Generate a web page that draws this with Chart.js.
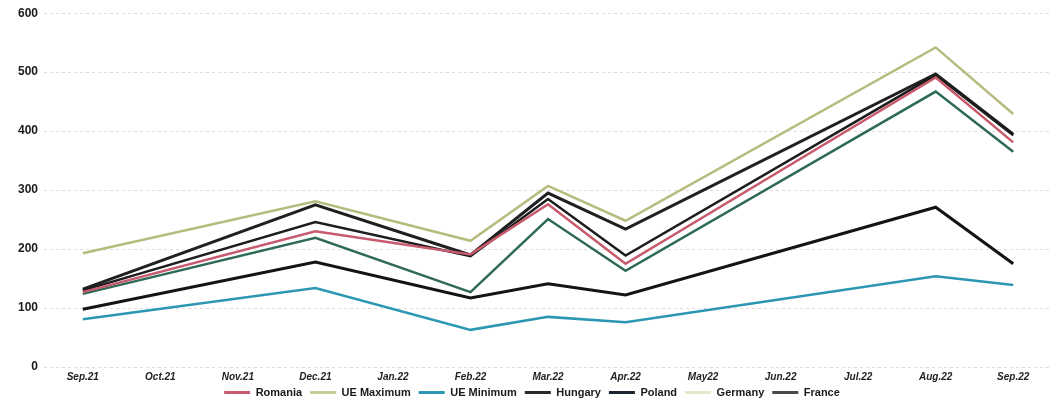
<!DOCTYPE html>
<html>
<head>
<meta charset="utf-8">
<script src="https://cdn.jsdelivr.net/npm/chart.js@4"></script>
<style>
  html, body { margin: 0; padding: 0; background: #fff; }
  #wrap { width: 1060px; height: 402px; position: relative; }
</style>
</head>
<body>
<div id="wrap"><canvas id="priceChart"></canvas></div>
<script>
// months on the axis; only some months have readings, the rest are null
const months = ['Sep.21', 'Oct.21', 'Nov.21', 'Dec.21', 'Jan.22', 'Feb.22', 'Mar.22',
  'Apr.22', 'May22', 'Jun.22', 'Jul.22', 'Aug.22', 'Sep.22'];
const yTicks = [0, 100, 200, 300, 400, 500, 600];

const romania   = [127, null, null, 230, null, 191, 276, 175, null, null, null, 491, 381];
const ueMaximum = [193, null, null, 281, null, 214, 307, 248, null, null, null, 542, 429];
const ueMinimum = [81,  null, null, 134, null, 63,  85,  76,  null, null, null, 154, 139];
const hungary   = [130, null, null, 246, null, 188, 285, 189, null, null, null, 495, 393];
const poland    = [98,  null, null, 178, null, 117, 141, 122, null, null, null, 271, 175];
const germany   = [124, null, null, 219, null, 127, 251, 163, null, null, null, 467, 365];
const france    = [132, null, null, 275, null, 190, 295, 234, null, null, null, 497, 395];

// line colour, legend swatch colour (the swatches in the picture are washed out), width
const series = [
  { label: 'Romania',    data: romania,   color: '#c75a6c', swatch: '#c75a6c', width: 2.5 },
  { label: 'UE Maximum', data: ueMaximum, color: '#b7bb7e', swatch: '#c9cc98', width: 2.5 },
  { label: 'UE Minimum', data: ueMinimum, color: '#2c97b2', swatch: '#2c97b2', width: 2.5 },
  { label: 'Hungary',    data: hungary,   color: '#1d1d1d', swatch: '#2a2a2a', width: 2.5 },
  { label: 'Poland',     data: poland,    color: '#141414', swatch: '#1b2430', width: 3 },
  { label: 'Germany',    data: germany,   color: '#2f6a57', swatch: '#e3eacb', width: 2.5 },
  { label: 'France',     data: france,    color: '#202020', swatch: '#4a4a4a', width: 3 }
];

const font = '"Liberation Sans", Arial, sans-serif';

// legend sits tight under the month labels, like in the original
const liftLegend = {
  id: 'liftLegend',
  afterLayout(chart) {
    chart.legend.top -= 8;
    chart.legend.bottom -= 8;
  }
};

new Chart(document.getElementById('priceChart'), {
  type: 'line',
  data: {
    labels: months,
    datasets: series.map(s => ({
      label: s.label,
      data: s.data,
      borderColor: s.color,
      backgroundColor: s.swatch,
      borderWidth: s.width,
      pointRadius: 0,
      tension: 0,
      spanGaps: true
    }))
  },
  options: {
    responsive: true,
    maintainAspectRatio: false,
    animation: false,
    layout: { padding: { left: 12, right: 8, top: 8, bottom: -14 } },
    plugins: {
      tooltip: { enabled: false },
      legend: {
        position: 'bottom',
        labels: {
          boxWidth: 26,
          boxHeight: 3,
          padding: 8,
          color: '#1a1a1a',
          font: { family: font, size: 11, weight: 'bold' },
          generateLabels: chart => {
            const items = Chart.defaults.plugins.legend.labels.generateLabels(chart);
            items.forEach((it, i) => {
              it.fillStyle = series[i].swatch;
              it.strokeStyle = series[i].swatch;
              it.lineWidth = 0;
            });
            return items;
          }
        }
      }
    },
    scales: {
      x: {
        offset: true,
        grid: { display: false, drawTicks: false, tickLength: 0 },
        border: { display: false },
        ticks: {
          padding: 4,
          maxRotation: 0,
          autoSkip: false,
          color: '#222',
          font: { family: font, size: 10, weight: 'bold', style: 'italic' }
        }
      },
      y: {
        min: 0,
        max: 600,
        afterBuildTicks: axis => { axis.ticks = yTicks.map(v => ({ value: v })); },
        border: { display: false, dash: [3, 3] },
        grid: { color: '#dcdcdc', lineWidth: 1, tickLength: 0 },
        ticks: {
          padding: 6,
          color: '#1a1a1a',
          font: { family: font, size: 12, weight: 'bold' }
        }
      }
    }
  },
  plugins: [liftLegend]
});
</script>
</body>
</html>
